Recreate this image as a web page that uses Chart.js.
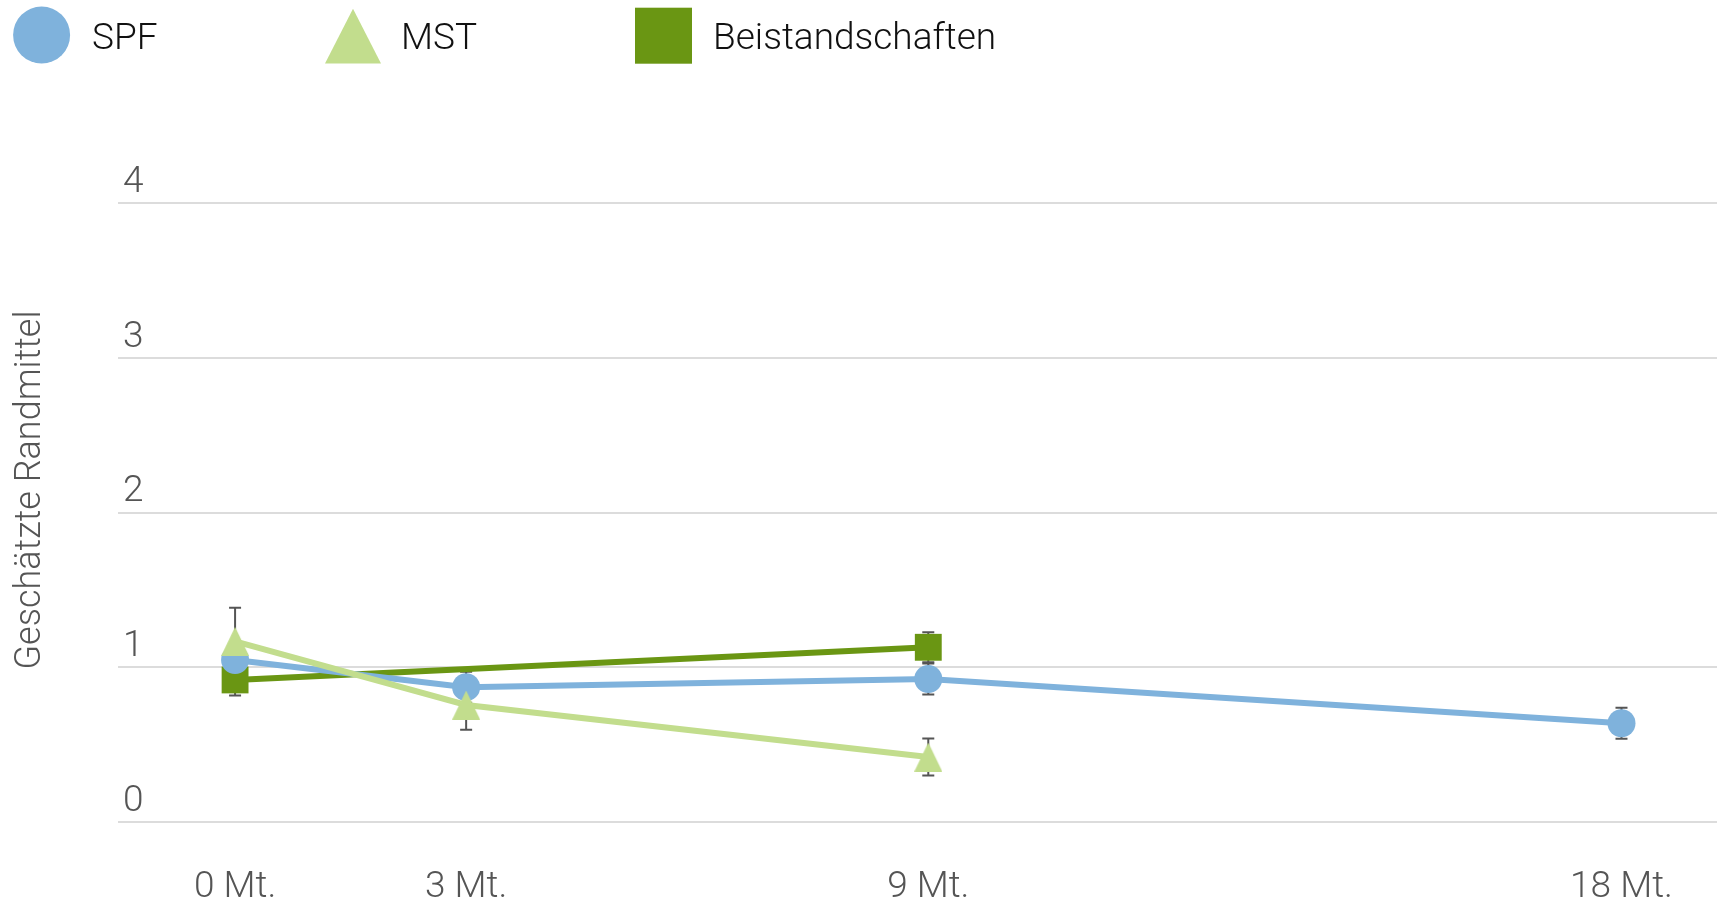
<!DOCTYPE html>
<html>
<head>
<meta charset="utf-8">
<script src="https://cdn.jsdelivr.net/npm/chart.js@4/dist/chart.umd.min.js"></script>
<style>
  html, body { margin: 0; padding: 0; background: #fff; overflow: hidden; }
  #wrap { width: 1717px; height: 901px; }
  #chart { display: block; width: 1717px; height: 901px; }
</style>
</head>
<body>
<div id="wrap"><canvas id="chart" width="1717" height="901"></canvas></div>
<script>
// Zeitpunkte und Beschriftungen
const monthTicks = [0, 3, 9, 18];
const monthLabels = ['0 Mt.', '3 Mt.', '9 Mt.', '18 Mt.'];
const yTicks = [0, 1, 2, 3, 4];

// Serien (Randmittel + Fehlerbalken)
const spfMonths = [0, 3, 9, 18];
const spfValues = [1.047, 0.871, 0.924, 0.638];
const spfErrors = [0.1, 0.1, 0.1, 0.1];

const mstMonths = [0, 3, 9];
const mstValues = [1.167, 0.756, 0.42];
const mstErrors = [0.218, 0.16, 0.12];

const beistMonths = [0, 9];
const beistValues = [0.918, 1.129];
const beistErrors = [0.1, 0.097];

const seriesNames = ['SPF', 'MST', 'Beistandschaften'];
const seriesColors = ['#7fb2dc', '#c2dd8d', '#6a9613'];

const FONT = 'Roboto, "Liberation Sans", sans-serif';

function toPoints(xs, ys) {
    return xs.map((x, i) => ({ x: x, y: ys[i] }));
}

// Dreieck als eigenes Punktsymbol (etwas schmaler als gleichseitig)
function makeTriangle(w, h, color) {
    const c = document.createElement('canvas');
    c.width = w; c.height = h;
    const g = c.getContext('2d');
    g.fillStyle = color;
    g.beginPath();
    g.moveTo(w / 2, 0);
    g.lineTo(w, h);
    g.lineTo(0, h);
    g.closePath();
    g.fill();
    return c;
}

const errorBars = {
    id: 'errorBars',
    beforeDatasetsDraw(chart) {
        const ctx = chart.ctx;
        const xs = chart.scales.x, ys = chart.scales.y;
        ctx.save();
        ctx.strokeStyle = '#555';
        ctx.lineWidth = 2;
        chart.data.datasets.forEach(ds => {
            if (!ds.errors) return;
            ds.data.forEach((p, i) => {
                const e = ds.errors[i];
                const x = xs.getPixelForValue(p.x);
                const top = ys.getPixelForValue(p.y + e);
                const bot = ys.getPixelForValue(p.y - e);
                ctx.beginPath();
                ctx.moveTo(x, top); ctx.lineTo(x, bot);
                ctx.moveTo(x - 6, top); ctx.lineTo(x + 6, top);
                ctx.moveTo(x - 6, bot); ctx.lineTo(x + 6, bot);
                ctx.stroke();
            });
        });
        ctx.restore();
    }
};

// X-Beschriftungen unter der Achse, Position aus der Skala
const monthAxisLabels = {
    id: 'monthAxisLabels',
    afterDraw(chart) {
        const ctx = chart.ctx;
        const xs = chart.scales.x;
        ctx.save();
        ctx.fillStyle = '#555';
        ctx.font = '300 37px ' + FONT;
        ctx.textAlign = 'center';
        ctx.textBaseline = 'alphabetic';
        monthTicks.forEach((m, i) => {
            ctx.fillText(monthLabels[i], xs.getPixelForValue(m), 897);
        });
        ctx.restore();
    }
};

const customLegend = {
    id: 'customLegend',
    afterDraw(chart) {
        const ctx = chart.ctx;
        ctx.save();
        // Kreis
        ctx.fillStyle = seriesColors[0];
        ctx.beginPath();
        ctx.arc(41.6, 35, 28.5, 0, Math.PI * 2);
        ctx.fill();
        // Dreieck
        ctx.fillStyle = seriesColors[1];
        ctx.beginPath();
        ctx.moveTo(353, 8.8);
        ctx.lineTo(381, 63.5);
        ctx.lineTo(325, 63.5);
        ctx.closePath();
        ctx.fill();
        // Quadrat
        ctx.fillStyle = seriesColors[2];
        ctx.fillRect(635, 7.7, 57, 56);

        ctx.fillStyle = '#111';
        ctx.font = '300 37px ' + FONT;
        ctx.textBaseline = 'alphabetic';
        ctx.textAlign = 'left';
        const textX = [92, 401, 713];
        seriesNames.forEach((n, i) => ctx.fillText(n, textX[i], 49));
        ctx.restore();
    }
};

const yTitle = {
    id: 'yTitle',
    afterDraw(chart) {
        const ctx = chart.ctx;
        ctx.save();
        ctx.translate(31, 490);
        ctx.rotate(-Math.PI / 2);
        ctx.fillStyle = '#555';
        ctx.font = '300 36px ' + FONT;
        ctx.textAlign = 'center';
        ctx.textBaseline = 'middle';
        ctx.fillText('Geschätzte Randmittel', 0, 0);
        ctx.restore();
    }
};

new Chart(document.getElementById('chart'), {
    type: 'line',
    data: {
        datasets: [
            {
                label: seriesNames[0],
                data: toPoints(spfMonths, spfValues),
                errors: spfErrors,
                borderColor: seriesColors[0],
                backgroundColor: seriesColors[0],
                pointStyle: 'circle',
                pointRadius: 14,
                order: 1
            },
            {
                label: seriesNames[1],
                data: toPoints(mstMonths, mstValues),
                errors: mstErrors,
                borderColor: seriesColors[1],
                backgroundColor: seriesColors[1],
                pointStyle: makeTriangle(28, 29, seriesColors[1]),
                pointRadius: 14,
                order: 0
            },
            {
                label: seriesNames[2],
                data: toPoints(beistMonths, beistValues),
                errors: beistErrors,
                borderColor: seriesColors[2],
                backgroundColor: seriesColors[2],
                pointStyle: 'rect',
                pointRadius: 19,
                order: 2
            }
        ]
    },
    options: {
        responsive: false,
        animation: false,
        devicePixelRatio: 1,
        // autoPadding aus, sonst reserviert Chart.js rechts Platz für die Punktgröße
        layout: { autoPadding: false, padding: { left: 118, top: 203, right: 0, bottom: 79 } },
        elements: {
            line: { borderWidth: 6, tension: 0 },
            point: { borderWidth: 0, hoverRadius: 14 }
        },
        scales: {
            x: {
                type: 'linear',
                min: -1.52,
                max: 19.24,
                afterBuildTicks: axis => { axis.ticks = monthTicks.map(v => ({ value: v })); },
                afterFit: axis => { axis.height = 0; },
                ticks: { display: false },
                grid: { display: false },
                border: { display: false }
            },
            y: {
                min: 0,
                max: 4,
                afterBuildTicks: axis => { axis.ticks = yTicks.map(v => ({ value: v })); },
                afterFit: axis => { axis.width = 0; },
                ticks: {
                    mirror: true,
                    padding: 5,
                    labelOffset: -20.5,
                    font: { family: FONT, size: 37, weight: '300' },
                    color: '#555'
                },
                grid: { color: '#dcdcdc', lineWidth: 2, drawTicks: false },
                border: { display: false }
            }
        },
        plugins: {
            legend: { display: false },
            tooltip: { enabled: false }
        }
    },
    plugins: [errorBars, monthAxisLabels, customLegend, yTitle]
});
</script>
</body>
</html>
